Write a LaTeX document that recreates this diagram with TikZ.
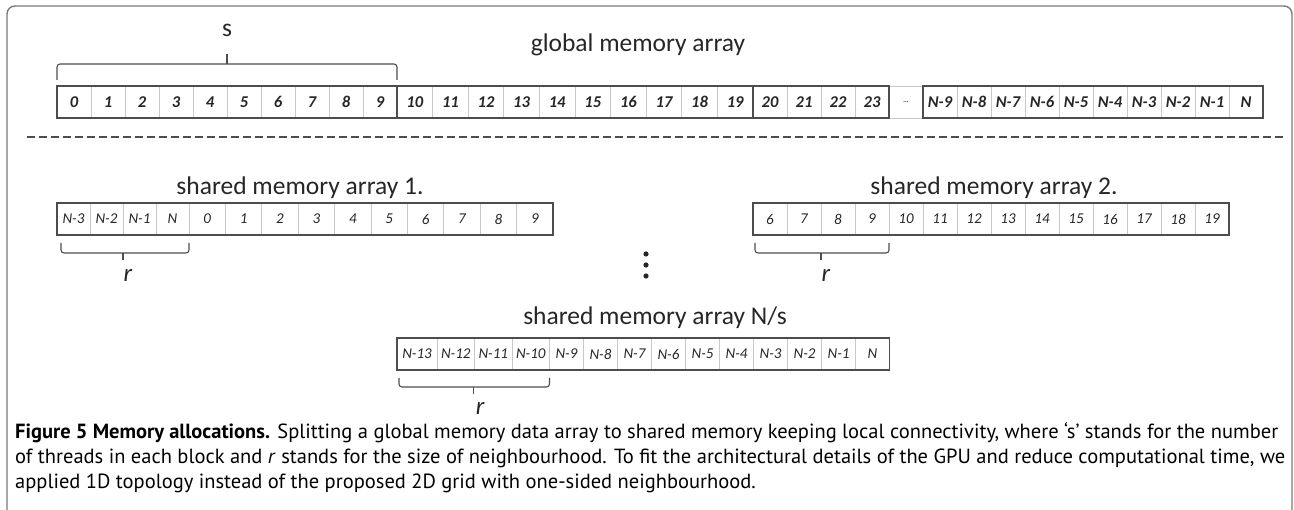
\documentclass[tikz,border=0pt]{standalone}
\usepackage{fontspec}
\setmainfont{Carlito}
\newfontfamily\capfont{PT Sans}
\usepackage{tikz}
\usetikzlibrary{positioning,calc}
\definecolor{cFrame}{HTML}{7A7A7A}
\definecolor{cLine}{HTML}{4D4D4D}
\definecolor{cLight}{HTML}{C8C8C8}
\definecolor{cText}{HTML}{262626}
\tikzset{
  cell/.style={draw=cLight,line width=0.8pt,minimum height=32pt,inner sep=0pt,
    outer sep=0pt,font=\fontsize{15}{15}\selectfont\itshape,text=cText},
  cell-bold/.style={cell,font=\fontsize{16.5}{16.5}\selectfont\bfseries\itshape},
  group-box/.style={draw=cLine,line width=1.6pt},
  bracket/.style={draw=cLine,line width=1.1pt,rounded corners=3pt},
  array-title/.style={font=\fontsize{25.5}{25.5}\selectfont,text=cText},
  brace-label/.style={inner sep=1pt,font=\fontsize{25}{25}\selectfont\itshape,text=cText},
  separator/.style={draw=cLine,line width=1.1pt,dash pattern=on 8pt off 4pt},
}

\begin{document}
\begin{tikzpicture}[x=1pt,y=-1pt]
  \useasboundingbox (0,0) rectangle (1294,510);
  % open frame round the figure
  \draw[cFrame,line width=1.4pt,rounded corners=8pt]
    (7,510) -- (7,6) -- (1292,6) -- (1292,510);

  % global memory array, one node per cell
  \coordinate (g0) at (57,102);
  \foreach \lbl/\w [count=\i,remember=\i as \j (initially 0)] in
    {0/34,1/34,2/34,3/34,4/34,5/34,6/34,7/34,8/34,9/34,
     10/35.6,11/35.6,12/35.6,13/35.6,14/35.6,15/35.6,16/35.6,17/35.6,18/35.6,19/35.6,
     20/34,21/34,22/34,23/34,{\scriptsize\ldots}/34,
     N-9/34,N-8/34,N-7/34,N-6/34,N-5/34,N-4/34,N-3/34,N-2/34,N-1/34,N/34}
    \node[cell-bold,minimum width=\w pt,right=0pt of g\j] (g\i) {\lbl};
  \draw[group-box] (g1.north west) rectangle (g10.south east);
  \draw[group-box] (g11.north west) rectangle (g20.south east);
  \draw[group-box] (g21.north west) rectangle (g24.south east);
  \draw[group-box] (g26.north west) rectangle (g35.south east);
  \node[array-title] (gtitle) at (638,45) {global memory array};

  % block size s
  \draw[bracket] ([yshift=6pt]g1.north west)
    |- ($(g1.north west)!.5!(g10.north east)+(0,-22)$)
    -| ([yshift=6pt]g10.north east);
  \draw[bracket] ($(g1.north west)!.5!(g10.north east)+(0,-22)$) -- ++(0,-10);
  \node[array-title] (slbl) at ($(g1.north west)!.5!(g10.north east)+(0,-56)$) {s};

  \draw[separator] (27,137) -- (1285,137);

  % shared memory array 1
  \coordinate (a0) at (57,219);
  \foreach \lbl/\w [count=\i,remember=\i as \j (initially 0)] in
    {N-3/33,N-2/33,N-1/33,N/33,0/36.4,1/36.4,2/36.4,3/36.4,4/36.4,
     5/36.4,6/36.4,7/36.4,8/36.4,9/36.4}
    \node[cell,minimum width=\w pt,right=0pt of a\j] (a\i) {\lbl};
  \draw[group-box] (a1.north west) rectangle (a14.south east);
  \node[array-title] (atitle) at (300,188) {shared memory array 1.};
  \draw[bracket] ([shift={(4,8)}]a1.south west)
    |- ($(a1.south west)!.5!(a4.south east)+(0,18)$)
    -| ([shift={(0,8)}]a4.south east);
  \draw[bracket] ($(a1.south west)!.5!(a4.south east)+(0,18)$) -- ++(0,7);
  \node[brace-label] (ar) at ($(a1.south west)!.5!(a4.south east)+(5,40)$) {r};

  % shared memory array 2
  \coordinate (b0) at (753,219);
  \foreach \lbl [count=\i,remember=\i as \j (initially 0)] in {6,...,19}
    \node[cell,minimum width=34pt,right=0pt of b\j] (b\i) {\lbl};
  \draw[group-box] (b1.north west) rectangle (b14.south east);
  \node[array-title] (btitle) at (994,188) {shared memory array 2.};
  \draw[bracket] ([shift={(2,8)}]b1.south west)
    |- ($(b1.south west)!.5!(b4.south east)+(0,18)$)
    -| ([shift={(0,8)}]b4.south east);
  \draw[bracket] ($(b1.south west)!.5!(b4.south east)+(0,18)$) -- ++(0,7);
  \node[brace-label] (br) at ($(b1.south west)!.5!(b4.south east)+(5,40)$) {r};

  % more arrays in between
  \foreach \k in {0,1,2}
    \fill[cText] (646,{254+11*\k}) circle (2.6pt);

  % last shared memory array
  \coordinate (c0) at (397,354);
  \foreach \lbl/\w [count=\i,remember=\i as \j (initially 0)] in
    {N-13/40,N-12/37.5,N-11/37.5,N-10/37.5,N-9/34,N-8/34,N-7/34,N-6/34,
     N-5/34,N-4/34,N-3/34,N-2/34,N-1/34,N/34}
    \node[cell,minimum width=\w pt,right=0pt of c\j] (c\i) {\lbl};
  \draw[group-box] (c1.north west) rectangle (c14.south east);
  \node[array-title] (ctitle) at (655,318) {shared memory array N/s};
  \draw[bracket] ([shift={(2,8)}]c1.south west)
    |- ($(c1.south west)!.5!(c4.south east)+(0,17)$)
    -| ([shift={(0,8)}]c4.south east);
  \draw[bracket] ($(c1.south west)!.5!(c4.south east)+(0,17)$) -- ++(0,7);
  \node[brace-label] (cr) at ($(c1.south west)!.5!(c4.south east)+(7,38)$) {r};

  % caption
  \node[anchor=north west,align=left,inner sep=0pt,text=black,
    font=\capfont\fontsize{20.5}{25}\selectfont] (caption) at (15,422)
    {\textbf{Figure 5 Memory allocations.} Splitting a global memory data array to shared memory keeping local connectivity, where ‘s’ stands for the number\\
     of threads in each block and \textit{r} stands for the size of neighbourhood. To fit the architectural details of the GPU and reduce computational time, we\\
     applied 1D topology instead of the proposed 2D grid with one-sided neighbourhood.};
\end{tikzpicture}
\end{document}
